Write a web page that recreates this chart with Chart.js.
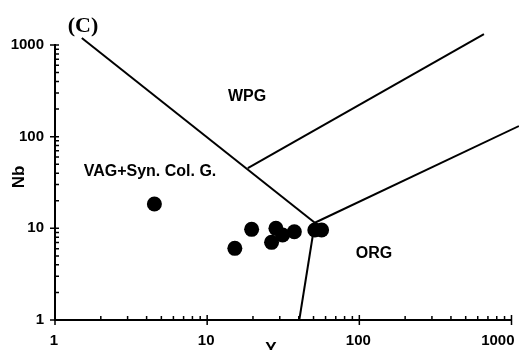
<!DOCTYPE html>
<html>
<head>
<meta charset="utf-8">
<script src="https://cdn.jsdelivr.net/npm/chart.js@4.4.0/dist/chart.umd.min.js"></script>
<style>
  body { margin: 0; background: #fff; }
  #wrap { width: 519px; height: 350px; }
</style>
</head>
<body>
<div id="wrap"><canvas id="nbY" width="519" height="350"></canvas></div>
<script>
// Samples: Y (x axis) and Nb (y axis), ppm
const sampleY  = [4.5, 15.2, 19.6, 26.5, 28.3, 31.3, 37.4, 51, 56.5];
const sampleNb = [18.4, 6.05, 9.75, 7.03, 10.0, 8.45, 9.18, 9.58, 9.58];

// Field boundaries (Y, Nb)
const vagWpgY = [1.5, 51];   const vagWpgNb = [1190, 11.5];
const wpgTopY = [18.5, 659]; const wpgTopNb = [45.5, 1315];
const wpgOrgY = [51, 1119];  const wpgOrgNb = [11.5, 130.6];
const vagOrgY = [40.3, 51];  const vagOrgNb = [1, 11.5];

const tickValues = [1, 10, 100, 1000];

function toPoints(xs, ys) {
  return xs.map((x, i) => ({ x: x, y: ys[i] }));
}

function boundary(xs, ys) {
  return {
    data: toPoints(xs, ys),
    showLine: true,
    borderColor: '#000',
    borderWidth: 2,
    pointRadius: 0,
    clip: false
  };
}

// minor/major ticks, x labels and field names
const overlay = {
  id: 'overlay',
  afterDraw(chart) {
    const { ctx, chartArea: a, scales: { x, y } } = chart;
    ctx.save();
    ctx.strokeStyle = '#000';
    ctx.lineWidth = 1.5;
    ctx.beginPath();
    for (let d = 1; d < 1000; d *= 10) {
      for (let k = 2; k <= 9; k++) {
        const px = x.getPixelForValue(k * d);
        ctx.moveTo(px, a.bottom); ctx.lineTo(px, a.bottom - 4);
        const py = y.getPixelForValue(k * d);
        ctx.moveTo(a.left, py); ctx.lineTo(a.left + 4, py);
      }
    }
    tickValues.forEach(v => {
      const px = x.getPixelForValue(v);
      ctx.moveTo(px, a.bottom - 5); ctx.lineTo(px, a.bottom + 5);
      const py = y.getPixelForValue(v);
      ctx.moveTo(a.left - 5, py); ctx.lineTo(a.left + 4, py);
    });
    ctx.stroke();

    ctx.fillStyle = '#000';
    ctx.font = 'bold 15px "Liberation Sans", Arial';
    ctx.textBaseline = 'middle';
    tickValues.forEach((v, i) => {
      const px = x.getPixelForValue(v);
      if (i === tickValues.length - 1) {
        ctx.textAlign = 'right';
        ctx.fillText(String(v), px + 3, 341);
      } else {
        ctx.textAlign = 'center';
        ctx.fillText(String(v), px - 1, 341);
      }
    });

    ctx.font = 'bold 16px "Liberation Sans", Arial';
    ctx.textAlign = 'center';
    ctx.fillText('WPG', 247, 97);
    ctx.fillText('VAG+Syn. Col. G.', 150, 172);
    ctx.fillText('ORG', 374, 254);

    // axis titles
    ctx.font = 'bold 17px "Liberation Sans", Arial';
    ctx.textBaseline = 'top';
    ctx.fillText('Y', 271, 341);
    ctx.save();
    ctx.translate(19, 177);
    ctx.rotate(-Math.PI / 2);
    ctx.textBaseline = 'middle';
    ctx.fillText('Nb', 0, 0);
    ctx.restore();

    ctx.font = 'bold 22px "Liberation Serif", "Times New Roman"';
    ctx.textBaseline = 'middle';
    ctx.fillText('(C)', 83, 26);
    ctx.restore();
  }
};

const ctx = document.getElementById('nbY').getContext('2d');
new Chart(ctx, {
  type: 'scatter',
  data: {
    datasets: [
      {
        data: toPoints(sampleY, sampleNb),
        pointRadius: 7.5,
        pointBackgroundColor: '#000',
        pointBorderWidth: 0,
        showLine: false
      },
      boundary(vagWpgY, vagWpgNb),
      boundary(wpgTopY, wpgTopNb),
      boundary(wpgOrgY, wpgOrgNb),
      boundary(vagOrgY, vagOrgNb)
    ]
  },
  options: {
    responsive: false,
    animation: false,
    layout: { padding: { top: 45, right: 7, left: 0, bottom: 0 } },
    plugins: { legend: { display: false }, tooltip: { enabled: false } },
    scales: {
      x: {
        type: 'logarithmic',
        min: 1,
        max: 1000,
        border: { display: true, color: '#000', width: 2 },
        grid: { display: true, drawOnChartArea: false, drawTicks: false },
        ticks: { display: false },
        afterFit: s => { s.height = 30; }
      },
      y: {
        type: 'logarithmic',
        min: 1,
        max: 1000,
        border: { display: true, color: '#000', width: 2 },
        grid: { display: true, drawOnChartArea: false, drawTicks: false },
        ticks: {
          padding: 11,
          color: '#000',
          font: { family: 'Liberation Sans', size: 15, weight: 'bold' },
          callback: v => tickValues.includes(v) ? String(v) : ''
        },
        afterBuildTicks: s => { s.ticks = tickValues.map(v => ({ value: v })); },
        afterFit: s => { s.width = 55; }
      }
    }
  },
  plugins: [overlay]
});
</script>
</body>
</html>
